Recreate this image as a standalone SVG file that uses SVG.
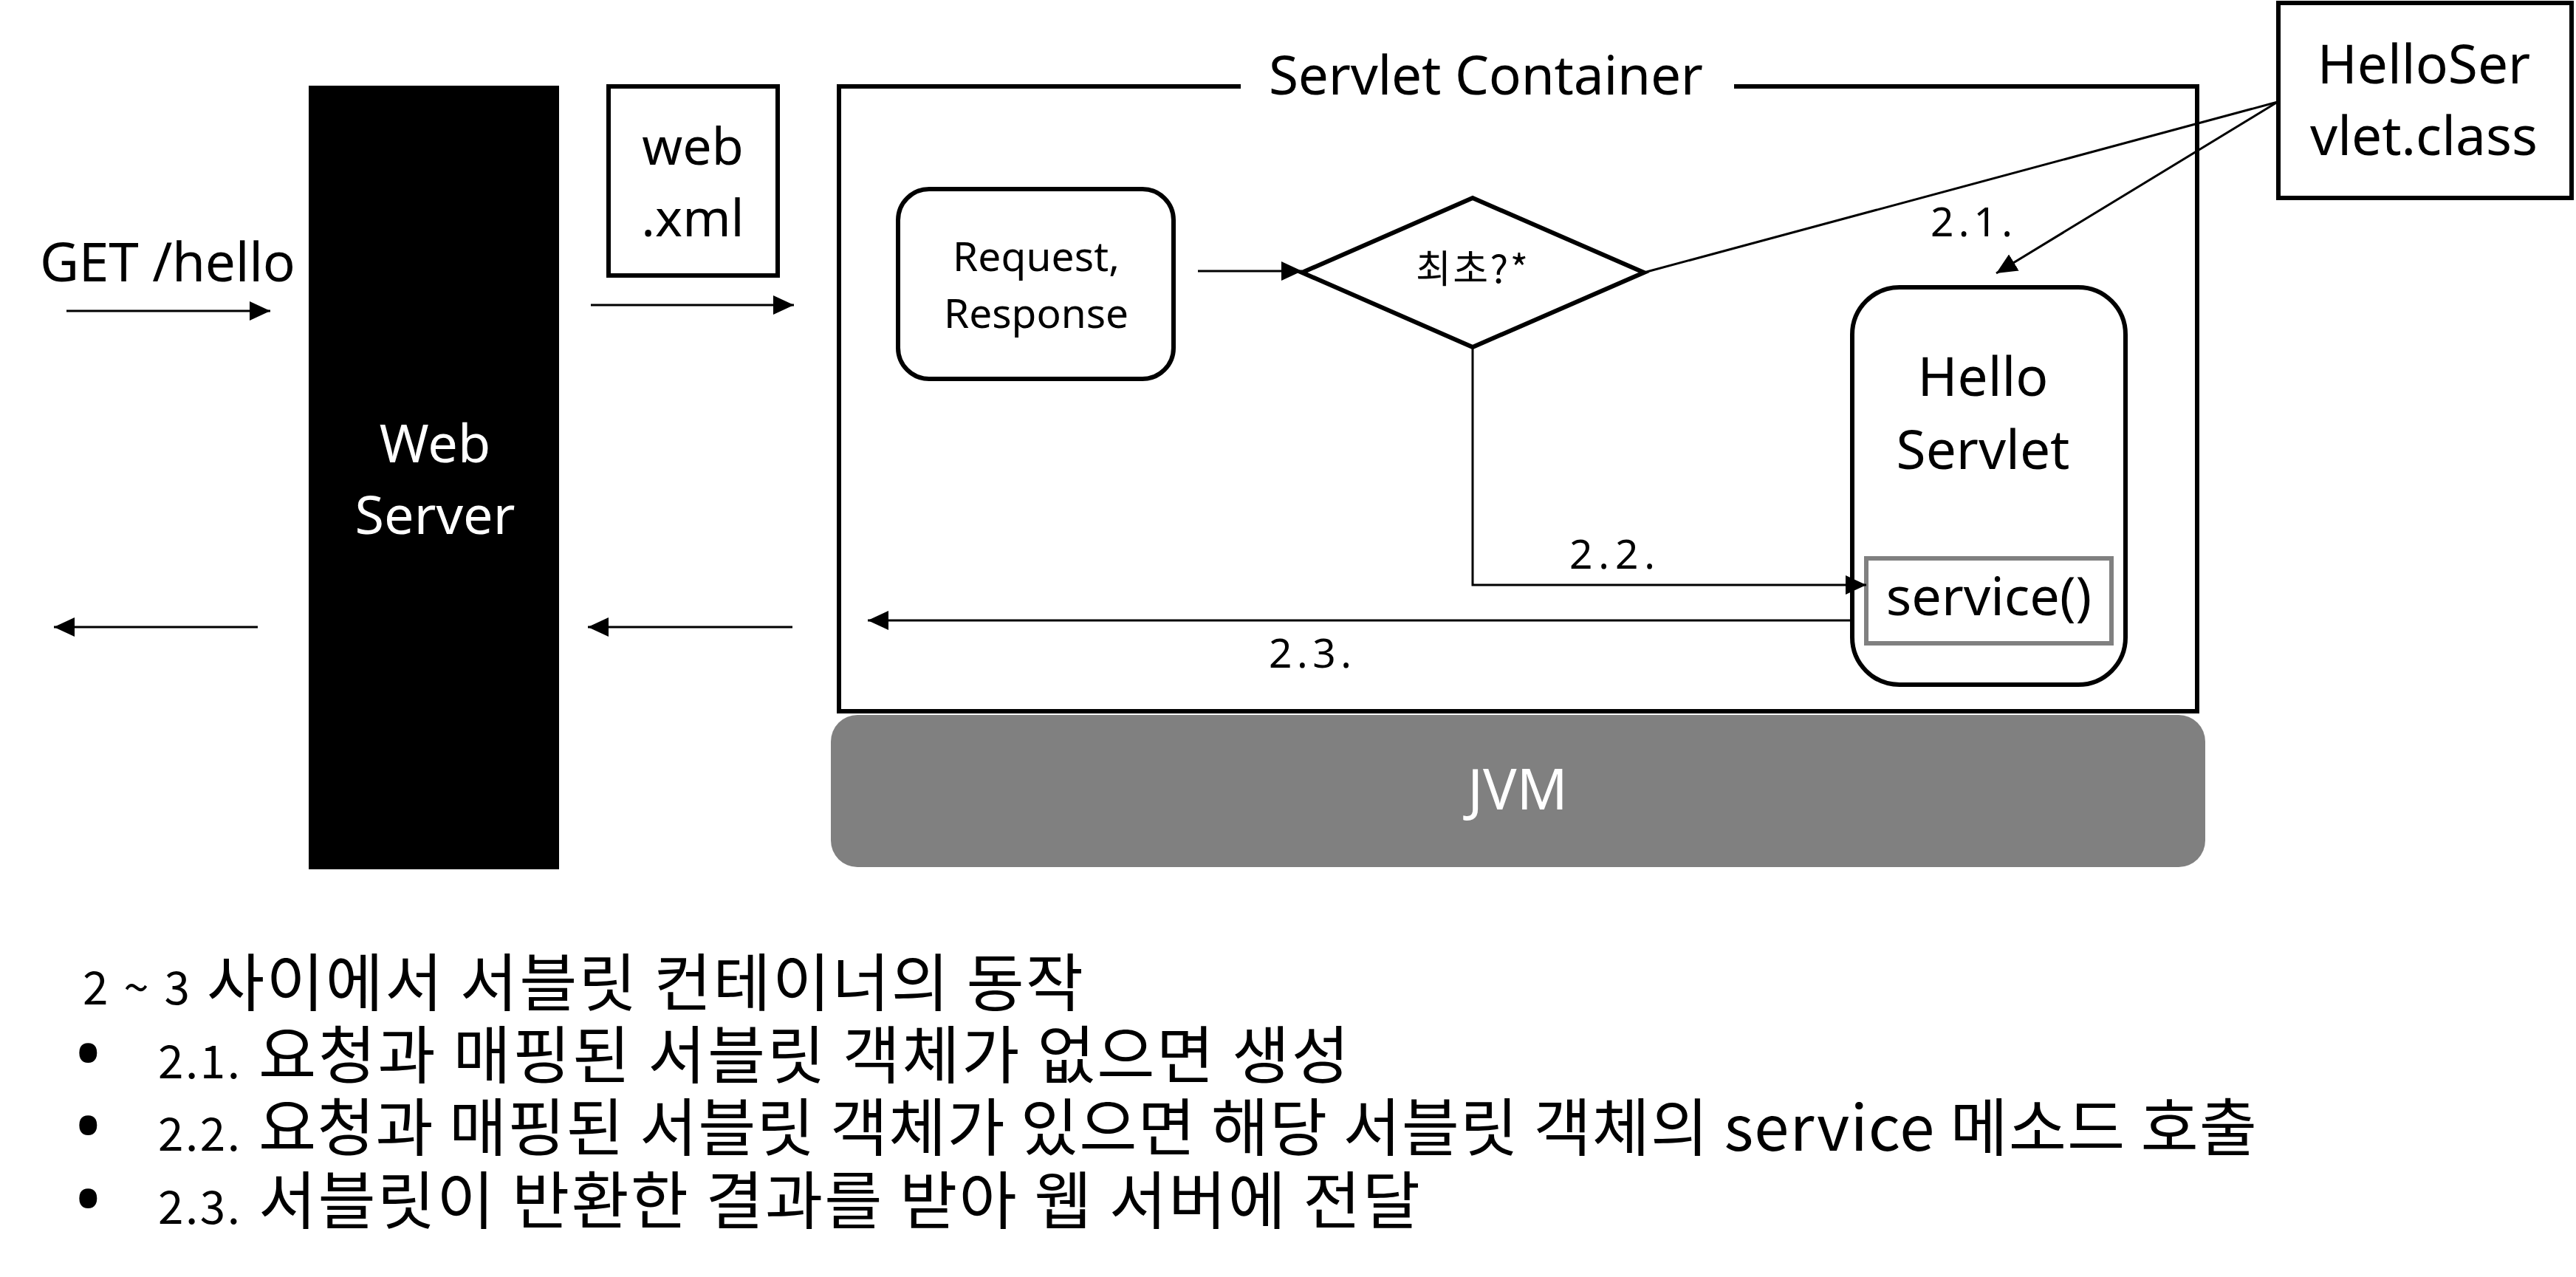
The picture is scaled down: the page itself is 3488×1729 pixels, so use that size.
<svg xmlns="http://www.w3.org/2000/svg" width="3488" height="1729" viewBox="0 0 3488 1729">
<style>
.t{font-family:"Noto Sans","Open Sans","DejaVu Sans",sans-serif;fill:#000}
.w{fill:#fff}
.k{font-family:"Noto Sans CJK KR","Noto Sans",sans-serif;fill:#000}
.box{fill:#fff;stroke:#000;stroke-width:6}
.conn{fill:none;stroke:#000;stroke-width:3}
.arr{marker-end:url(#ah)}
.lbl{font-size:55px}
.note{font-size:85px}
.num{font-size:62px}
.bul{font-size:108px}
</style>
<defs>
<marker id="ah" markerUnits="userSpaceOnUse" markerWidth="28" markerHeight="26" refX="28" refY="13" orient="auto">
<path d="M0,0 L28,13 L0,26 z" fill="#000"/>
</marker>
</defs>
<rect width="3488" height="1729" fill="#fff"/>

<g id="jvm">
<rect x="1125" y="968" width="1861" height="206" rx="36" fill="#808080"/>
<text class="t w" x="2055" y="1096" font-size="76" text-anchor="middle">JVM</text>
</g>

<g id="servlet-container">
<path d="M1680,117 H1136 V963 H2975 V117 H2348" fill="none" stroke="#000" stroke-width="6"/>
<text class="t" x="1718" y="128" font-size="73" textLength="588">Servlet Container</text>
</g>

<g id="web-server">
<rect x="418" y="116" width="339" height="1061" fill="#000"/>
<text class="t w" x="589" y="626" font-size="72" text-anchor="middle">Web</text>
<text class="t w" x="589" y="723" font-size="72" text-anchor="middle">Server</text>
</g>

<g id="web-xml">
<rect class="box" x="824" y="117" width="229" height="256"/>
<text class="t" x="938" y="223" font-size="70" text-anchor="middle">web</text>
<text class="t" x="938" y="320" font-size="70" text-anchor="middle">.xml</text>
</g>

<g id="get-hello">
<text class="t" x="54" y="381" font-size="73" textLength="346">GET /hello</text>
</g>

<g id="request-response">
<rect class="box" x="1216" y="256" width="373" height="257" rx="42"/>
<text class="t" x="1403" y="367" font-size="55" text-anchor="middle" textLength="226">Request,</text>
<text class="t" x="1403" y="444" font-size="55" text-anchor="middle">Response</text>
</g>

<g id="first-decision">
<polygon class="box" points="1763,369 1994,268 2226,369 1994,470"/>
<text class="k" x="1993" y="383" font-size="52" text-anchor="middle" textLength="152">최초?*</text>
</g>

<g id="hello-servlet">
<rect class="box" x="2508" y="389" width="370" height="538" rx="64"/>
<text class="t" x="2685" y="536" font-size="73" text-anchor="middle">Hello</text>
<text class="t" x="2685" y="635" font-size="73" text-anchor="middle">Servlet</text>
</g>

<g id="service-method">
<rect x="2527" y="756" width="332" height="115" fill="#fff" stroke="#808080" stroke-width="6"/>
<text class="t" x="2693" y="833" font-size="72" text-anchor="middle">service()</text>
</g>

<g id="hello-servlet-class">
<rect class="box" x="3085" y="4" width="397" height="264"/>
<text class="t" x="3282" y="113" font-size="73" text-anchor="middle">HelloSer</text>
<text class="t" x="3282" y="210" font-size="73" text-anchor="middle">vlet.class</text>
</g>

<g id="connectors">
<path class="conn arr" d="M90,421 H366"/>
<path class="conn arr" d="M800,413 H1075"/>
<path class="conn arr" d="M349,849 H73"/>
<path class="conn arr" d="M1073,849 H796"/>
<path class="conn arr" d="M1622,367 H1763"/>
<path class="conn" d="M2226,369 L3084,138"/>
<path class="conn arr" d="M3084,138 L2703,370"/>
<path class="conn arr" d="M1994,470 V792 H2527"/>
<path class="conn arr" d="M2505,840 H1175"/>
<text class="t lbl" x="2614" y="320" textLength="111">2.1.</text>
<text class="t lbl" x="2125" y="770" textLength="116">2.2.</text>
<text class="t lbl" x="1718" y="904" textLength="112">2.3.</text>
</g>

<g id="notes">
<text class="k num" x="112" y="1360" textLength="145">2 ~ 3</text>
<text class="k note" x="280" y="1362" textLength="1187">사이에서 서블릿 컨테이너의 동작</text>

<text class="t bul" x="99" y="1465">•</text>
<text class="k num" x="214" y="1460" textLength="111">2.1.</text>
<text class="k note" x="350" y="1460" textLength="1477">요청과 매핑된 서블릿 객체가 없으면 생성</text>

<text class="t bul" x="99" y="1563">•</text>
<text class="k num" x="214" y="1558" textLength="111">2.2.</text>
<text class="k note" x="350" y="1558" textLength="2706">요청과 매핑된 서블릿 객체가 있으면 해당 서블릿 객체의 service 메소드 호출</text>

<text class="t bul" x="99" y="1662">•</text>
<text class="k num" x="214" y="1657" textLength="111">2.3.</text>
<text class="k note" x="350" y="1657" textLength="1573">서블릿이 반환한 결과를 받아 웹 서버에 전달</text>
</g>
</svg>
